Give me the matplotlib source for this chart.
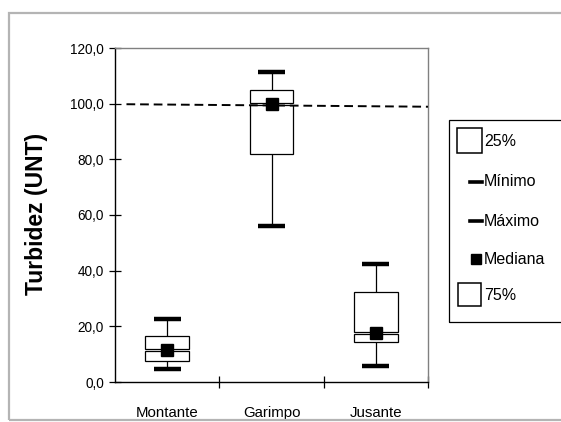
import matplotlib
matplotlib.use("Agg")
from matplotlib import pyplot as plt
from matplotlib.patches import Rectangle
from matplotlib.lines import Line2D

plt.rcParams['font.family'] = ['Liberation Sans', 'DejaVu Sans']

# valores
locais = ["Montante", "Garimpo", "Jusante"]
minimo = [4.6, 56.0, 5.9]
q1 = [7.7, 82.0, 14.4]
mediana = [11.5, 100.0, 17.5]
q3 = [16.5, 104.9, 32.4]
maximo = [22.7, 111.5, 42.4]
limite_x = [-0.39, 2.5]
limite_y = [99.8, 98.9]
y_ticks = [0, 20, 40, 60, 80, 100, 120]

W, H = 561, 422
fig = plt.figure(figsize=(W / 100, H / 100), dpi=100)

# moldura externa cinza
fig.patches.append(Rectangle((9 / W, 1 - 420 / H), 560 / W, (420 - 13) / H,
                             transform=fig.transFigure, fill=False,
                             edgecolor="#b4b4b4", linewidth=1.6))

ax = fig.add_axes([115 / W, (H - 382) / H, (428 - 115) / W, (382 - 48) / H])
x = list(range(len(locais)))
gap = 0.7

ax.bar(x, [m - gap / 2 - a for m, a in zip(mediana, q1)], bottom=q1, width=0.42,
       color="white", edgecolor="black", linewidth=0.9, zorder=2)
ax.bar(x, [b - m - gap / 2 for m, b in zip(mediana, q3)],
       bottom=[m + gap / 2 for m in mediana], width=0.42,
       color="white", edgecolor="black", linewidth=0.9, zorder=2)
ax.vlines(x, q3, maximo, color="black", linewidth=0.9, zorder=1)
ax.vlines(x, minimo, q1, color="black", linewidth=0.9, zorder=1)
for xi, lo, hi in zip(x, minimo, maximo):
    ax.hlines([lo, hi], xi - 0.13, xi + 0.13, color="black", linewidth=3.2, zorder=3)
ax.plot(x, mediana, "s", color="black", markersize=8, zorder=4, linestyle="none")

ax.plot(limite_x, limite_y, color="black", linestyle=(0, (4.5, 2.5)), linewidth=1.4, zorder=5)

ax.set_xlim(-0.5, 2.5)
ax.set_ylim(0, 120)
ax.set_yticks(y_ticks)
ax.set_yticklabels([f"{v:.1f}".replace(".", ",") for v in y_ticks], fontsize=9.8)
ax.set_xticks(x)
ax.set_xticklabels(locais, fontsize=10.8)
ax.set_xticks([0.5, 1.5, 2.5], minor=True)
ax.tick_params(axis="x", which="major", length=0, pad=17)
ax.tick_params(axis="x", which="minor", length=8, direction="inout", width=0.9)
ax.tick_params(axis="y", length=8, direction="inout", width=0.9, pad=4)
for s in ["left", "bottom"]:
    ax.spines[s].set_color("black")
    ax.spines[s].set_linewidth(1.0)
for s in ["top", "right"]:
    ax.spines[s].set_color("#808080")
    ax.spines[s].set_linewidth(1.0)

fig.text(37 / W, 1 - 214 / H, "Turbidez (UNT)", rotation=90, fontsize=16.5,
         fontweight="bold", ha="center", va="center")

# legenda desenhada a mao
fig.patches.append(Rectangle((449 / W, 1 - 322 / H), 130 / W, (322 - 120) / H,
                             transform=fig.transFigure, fill=False,
                             edgecolor="black", linewidth=0.9))


def fy(py):
    return 1 - py / H


def fx(px):
    return px / W


leg_fs = 11.5
fig.patches.append(Rectangle((fx(457), fy(153)), 25 / W, 25 / H, transform=fig.transFigure,
                             fill=False, edgecolor="black", linewidth=1.1))
fig.text(fx(484), fy(141), "25%", fontsize=leg_fs, va="center")
fig.lines.append(Line2D([fx(470), fx(482)], [fy(182), fy(182)], transform=fig.transFigure,
                        color="black", linewidth=2.6))
fig.text(fx(484), fy(182), "Mínimo", fontsize=leg_fs, va="center")
fig.lines.append(Line2D([fx(470), fx(482)], [fy(221), fy(221)], transform=fig.transFigure,
                        color="black", linewidth=2.6))
fig.text(fx(484), fy(221), "Máximo", fontsize=leg_fs, va="center")
fig.lines.append(Line2D([fx(476)], [fy(259)], transform=fig.transFigure, marker="s",
                        markersize=7, color="black", linestyle="none"))
fig.text(fx(484), fy(259), "Mediana", fontsize=leg_fs, va="center")
fig.patches.append(Rectangle((fx(458), fy(306)), 23 / W, 23 / H, transform=fig.transFigure,
                             fill=False, edgecolor="black", linewidth=1.1))
fig.text(fx(484), fy(295), "75%", fontsize=leg_fs, va="center")

fig.savefig("out.png", dpi=100)
